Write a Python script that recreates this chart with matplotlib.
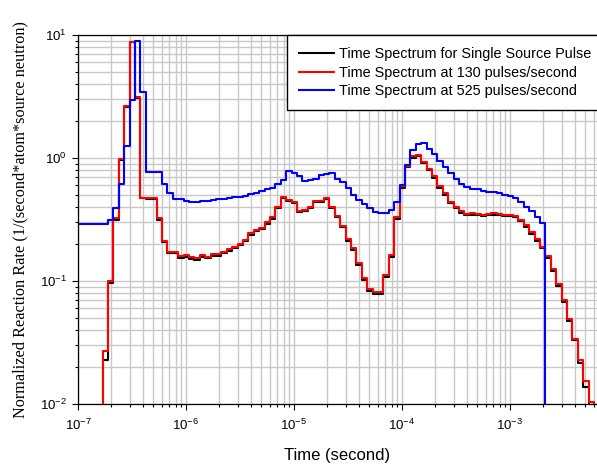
import numpy as np
import matplotlib
matplotlib.use('Agg')
import matplotlib.pyplot as plt


# 시간 빈 경계 (20 bins per decade)
t_edges = np.logspace(-7.0222, -2.1722, 98)

nan = np.nan

# 단일 펄스
single_pulse = [nan, nan, nan, nan, 0.001, 0.0228, 0.097, 0.315, 0.96, 2.6,
                8.7, 3.1, 0.47, 0.468, 0.465, 0.315, 0.208, 0.168, 0.168, 0.155,
                0.157, 0.152, 0.149, 0.158, 0.154, 0.16, 0.161, 0.168, 0.176, 0.185,
                0.195, 0.21, 0.238, 0.253, 0.263, 0.292, 0.322, 0.39, 0.47, 0.448,
                0.43, 0.362, 0.372, 0.392, 0.44, 0.44, 0.46, 0.392, 0.332, 0.273,
                0.212, 0.18, 0.136, 0.101, 0.083, 0.079, 0.079, 0.108, 0.158, 0.32,
                0.575, 0.84, 1.0, 1.03, 0.905, 0.8, 0.69, 0.575, 0.5, 0.428,
                0.39, 0.36, 0.341, 0.345, 0.341, 0.336, 0.341, 0.345, 0.341, 0.336,
                0.336, 0.33, 0.306, 0.277, 0.243, 0.213, 0.184, 0.155, 0.121, 0.091,
                0.068, 0.047, 0.033, 0.0215, 0.0138, 0.0098, 0.0095]

# 130 pulses/second
rate_130 = [nan, nan, nan, nan, 0.001, 0.027, 0.100, 0.323, 0.98, 2.65,
            8.8, 3.15, 0.476, 0.476, 0.476, 0.323, 0.213, 0.173, 0.173, 0.160,
            0.162, 0.156, 0.153, 0.163, 0.158, 0.165, 0.165, 0.173, 0.181, 0.19,
            0.20, 0.215, 0.245, 0.26, 0.27, 0.30, 0.33, 0.40, 0.48, 0.457,
            0.44, 0.37, 0.38, 0.40, 0.45, 0.45, 0.47, 0.40, 0.34, 0.28,
            0.218, 0.185, 0.14, 0.105, 0.086, 0.082, 0.082, 0.112, 0.163, 0.33,
            0.59, 0.86, 1.03, 1.06, 0.93, 0.82, 0.71, 0.59, 0.515, 0.44,
            0.40, 0.37, 0.35, 0.355, 0.35, 0.345, 0.35, 0.355, 0.35, 0.345,
            0.345, 0.34, 0.315, 0.285, 0.25, 0.22, 0.19, 0.16, 0.125, 0.094,
            0.07, 0.049, 0.034, 0.023, 0.0153, 0.0104, 0.0099]

# 525 pulses/second
rate_525 = [0.29, 0.29, 0.29, 0.29, 0.29, 0.29, 0.313, 0.39, 0.62, 1.26,
            2.96, 9.0, 3.46, 0.77, 0.77, 0.77, 0.62, 0.516, 0.46, 0.46,
            0.45, 0.44, 0.44, 0.445, 0.45, 0.457, 0.46, 0.465, 0.47, 0.48,
            0.485, 0.495, 0.51, 0.52, 0.54, 0.556, 0.57, 0.61, 0.66, 0.78,
            0.75, 0.715, 0.655, 0.66, 0.68, 0.73, 0.74, 0.75, 0.68, 0.64,
            0.57, 0.50, 0.457, 0.42, 0.39, 0.365, 0.36, 0.36, 0.38, 0.44,
            0.60, 0.88, 1.16, 1.30, 1.32, 1.18, 1.07, 0.95, 0.85, 0.76,
            0.67, 0.62, 0.58, 0.56, 0.555, 0.54, 0.53, 0.525, 0.515, 0.50,
            0.49, 0.475, 0.44, 0.40, 0.37, 0.33, 0.295, 1e-4, nan, nan,
            nan, nan, nan, nan, nan, nan, nan]

labels = ['Time Spectrum for Single Source Pulse',
          'Time Spectrum at 130 pulses/second',
          'Time Spectrum at 525 pulses/second']
colors = ['black', '#ff0000', '#0000ff']

plt.rcParams['font.family'] = 'Liberation Sans'
plt.rcParams['mathtext.fontset'] = 'custom'
plt.rcParams['mathtext.rm'] = 'Liberation Sans'
plt.rcParams['axes.unicode_minus'] = False

fig = plt.figure(figsize=(5.97, 4.68), dpi=100)
ax = fig.add_axes([78 / 597, 64 / 468, 519 / 597, 369 / 468])

for vals, lab, col in zip([single_pulse, rate_130, rate_525], labels, colors):
    v = np.array(vals)
    ax.step(t_edges, np.append(v, v[-1]), where='post', color=col, lw=1.5, label=lab)

ax.set_xscale('log')
ax.set_yscale('log')
ax.set_xlim(1e-7, 6.39e-3)
ax.set_ylim(1e-2, 1e1)

ax.grid(True, which='both', color='#c8c8c8', linewidth=1.0)
ax.set_axisbelow(True)
ax.spines['right'].set_visible(False)
for s in ['left', 'bottom', 'top']:
    ax.spines[s].set_linewidth(0.9)

ax.tick_params(which='major', direction='out', length=4.5, width=0.8, labelsize=9.5)
ax.tick_params(which='minor', direction='out', length=2.5, width=0.8)
ax.tick_params(axis='x', which='major', pad=5.5)
ax.tick_params(axis='y', which='major', pad=3.4)
ax.tick_params(top=False, right=False, which='both')

ax.set_xlabel('Time (second)', fontsize=12)
ax.xaxis.set_label_coords(0.5, -0.119)
ax.set_ylabel('Normalized Reaction Rate (1/(second*atom*source neutron)',
              fontsize=11.7, family='Liberation Serif')
ax.yaxis.set_label_coords(-0.0954, 0.5)

leg = ax.legend(loc='upper left', bbox_to_anchor=((287 - 78) / 519, 1.0),
                borderaxespad=0, fontsize=10.4, fancybox=False, framealpha=1,
                edgecolor='black', handlelength=2.43, handletextpad=0.35,
                borderpad=0.85, labelspacing=0.3)
leg.get_frame().set_linewidth(1.0)

fig.savefig('out.png', dpi=100)
